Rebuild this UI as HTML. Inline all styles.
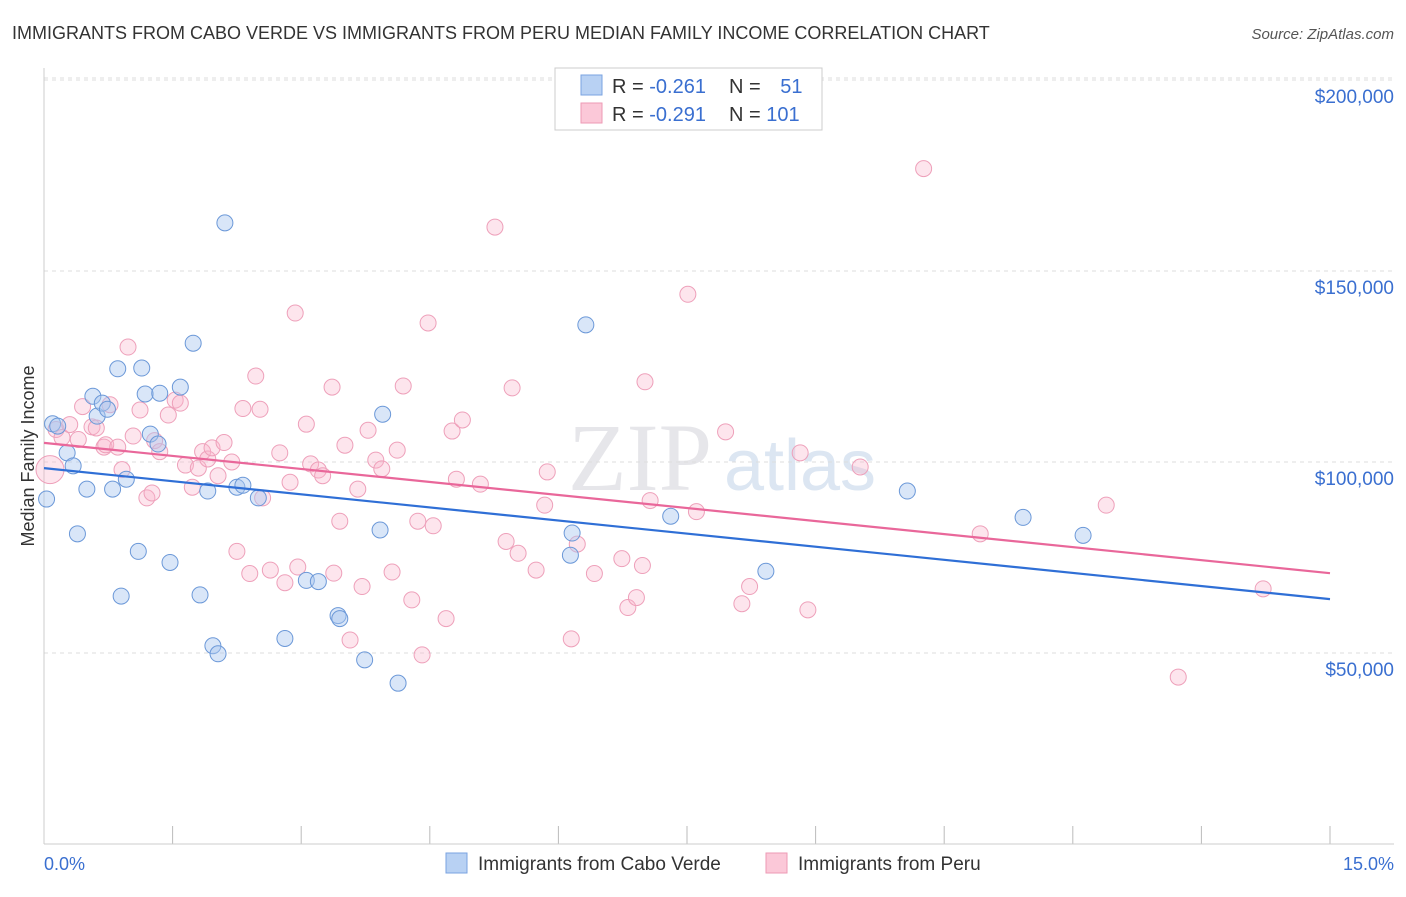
<!DOCTYPE html>
<html><head><meta charset="utf-8"><style>
body{margin:0;background:#fff;font-family:"Liberation Sans",sans-serif;}
</style></head><body>
<svg id="c" width="1406" height="892" xmlns="http://www.w3.org/2000/svg">
<text x="12" y="39" font-size="18" fill="#333">IMMIGRANTS FROM CABO VERDE VS IMMIGRANTS FROM PERU MEDIAN FAMILY INCOME CORRELATION CHART</text>
<text x="1394" y="39" font-size="15" fill="#555" font-style="italic" text-anchor="end">Source: ZipAtlas.com</text>
<text x="640" y="490" font-size="96" fill="#e6e6ea" font-family="Liberation Serif,serif" text-anchor="middle">ZIP</text>
<text x="800" y="490" font-size="72" fill="#dce6f2" text-anchor="middle">atlas</text>
<g id="grid"></g>
<line x1="44" y1="68" x2="44" y2="844" stroke="#ccc"/>
<line x1="44" y1="844" x2="1394" y2="844" stroke="#ccc"/>
<text transform="translate(34,456) rotate(-90)" font-size="18" fill="#333" text-anchor="middle">Median Family Income</text>
<text x="44" y="870" font-size="18" fill="#3a6fd0">0.0%</text>
<text x="1394" y="870" font-size="18" fill="#3a6fd0" text-anchor="end">15.0%</text>
<g id="pts"></g>
<g id="lines"></g>
<g>
<rect x="555" y="68" width="267" height="62" fill="#fff" stroke="#ccc"/>
<rect x="581" y="75" width="21" height="20" fill="#b8d1f3" stroke="#7aa3e0"/>
<rect x="581" y="103" width="21" height="20" fill="#fbc8d8" stroke="#ee9ab5"/>
<text x="612" y="93" font-size="20" fill="#333">R = <tspan fill="#3a6fd0">-0.261</tspan></text>
<text x="729" y="93" font-size="20" fill="#333">N = <tspan fill="#3a6fd0" dx="14">51</tspan></text>
<text x="612" y="121" font-size="20" fill="#333">R = <tspan fill="#3a6fd0">-0.291</tspan></text>
<text x="729" y="121" font-size="20" fill="#333">N = <tspan fill="#3a6fd0">101</tspan></text>
</g>
<g>
<rect x="446" y="853" width="21" height="20" fill="#b8d1f3" stroke="#7aa3e0"/>
<text x="478" y="870" font-size="19" fill="#333">Immigrants from Cabo Verde</text>
<rect x="766" y="853" width="21" height="20" fill="#fbc8d8" stroke="#ee9ab5"/>
<text x="798" y="870" font-size="19" fill="#333">Immigrants from Peru</text>
</g>
</svg>
<script>
const yTicks=[50000,100000,150000,200000];
const yTickLabels=["$50,000","$100,000","$150,000","$200,000"];
const xTicks=[0,1.5,3,4.5,6,7.5,9,10.5,12,13.5,15];
const blueX=[0.03,0.1,0.16,0.27,0.34,0.39,0.5,0.57,0.62,0.68,0.74,0.8,0.86,0.9,0.96,1.1,1.14,1.18,1.24,1.33,1.35,1.47,1.59,1.74,1.82,1.91,1.97,2.03,2.11,2.25,2.32,2.5,2.81,3.06,3.2,3.43,3.45,3.74,3.92,3.95,4.13,6.14,6.16,6.32,7.31,8.42,10.07,11.42,12.12];
const blueY=[90300,110000,109400,102400,99000,81200,92900,117200,112000,115400,113800,92900,124400,64900,95500,76600,124600,117800,107300,104700,118000,73700,119600,131100,65200,92400,51900,49800,162600,93400,93900,90600,53800,69000,68700,59800,59000,48200,82200,112500,42100,75600,81400,135900,85800,71400,92400,85500,80800];
const pinkX=[0.07,0.14,0.21,0.3,0.4,0.45,0.56,0.61,0.7,0.72,0.77,0.86,0.91,0.98,1.04,1.12,1.2,1.26,1.29,1.35,1.45,1.53,1.59,1.65,1.73,1.8,1.85,1.91,1.96,2.03,2.1,2.19,2.25,2.32,2.4,2.47,2.52,2.55,2.64,2.75,2.81,2.87,2.93,2.96,3.06,3.11,3.2,3.25,3.36,3.38,3.45,3.51,3.57,3.66,3.71,3.78,3.87,3.94,4.06,4.12,4.19,4.29,4.36,4.41,4.48,4.54,4.69,4.76,4.81,4.88,5.09,5.26,5.39,5.46,5.53,5.74,5.84,5.87,6.15,6.22,6.42,6.74,6.81,6.91,6.98,7.01,7.07,7.51,7.61,7.95,8.14,8.23,8.82,8.91,9.52,10.26,10.92,12.39,13.23,14.22]; 
const pinkY=[98000,108500,106400,109800,105900,114500,109200,108900,103900,104500,115000,103900,98000,130100,106800,113600,90600,91900,105600,102700,112300,116200,115400,99200,93400,98400,102700,100800,103700,96400,105100,100000,76600,114000,70800,122500,113800,90600,71700,102400,68400,94700,139000,72500,109900,99500,97900,96400,119600,70900,84500,104400,53400,92900,67400,108300,100500,98200,71200,103100,119900,63900,84500,49500,136400,83300,59000,108100,95500,111000,94200,161500,79200,119400,76100,71700,88700,97400,53700,78500,70800,74700,61900,64500,72900,121000,89900,143900,87000,107900,62900,67400,102400,61300,98700,176800,81200,88700,43700,66800];
const NS="http://www.w3.org/2000/svg";
const sx=v=>44+v/15*1286, sy=v=>844-v/50000*191;
const svg=document.getElementById('c');
function mk(t,a,p){const e=document.createElementNS(NS,t);for(const k in a)e.setAttribute(k,a[k]);p.appendChild(e);return e;}
const g=document.getElementById('grid');
yTicks.forEach((v,i)=>{
 const l=mk('line',{x1:44,x2:1394,y1:sy(v),y2:sy(v),stroke:'#ddd','stroke-dasharray':'4,4'},g);
 
 
 const t=mk('text',{x:1394,y:sy(v)+23,'font-size':19,fill:'#3a6fd0','text-anchor':'end'},g);
 t.textContent=yTickLabels[i];
 
 
});
const topl=mk('line',{x1:44,x2:1394,y1:78,y2:78,stroke:'#ddd','stroke-dasharray':'4,4'},g);
xTicks.forEach(v=>{
 const l=mk('line',{x1:sx(v),x2:sx(v),y1:826,y2:844,stroke:'#bbb'},g);
 
 
});
const pg=document.getElementById('pts');
pinkX.forEach((x,i)=>{
 const c=mk('circle',{cx:sx(x),cy:sy(pinkY[i]),r:i==0?14:8,fill:'rgba(248,180,204,0.35)',stroke:'#eea0ba','stroke-width':1},pg);
 
 
});
blueX.forEach((x,i)=>{
 const c=mk('circle',{cx:sx(x),cy:sy(blueY[i]),r:8,fill:'rgba(170,200,240,0.45)',stroke:'#6b98d8','stroke-width':1},pg);
 
 
});
const trendBlue=[98400,64100], trendPink=[105000,70900];
const lg=document.getElementById('lines');
const lb=mk('line',{x1:sx(0),x2:sx(15),y1:sy(trendBlue[0]),y2:sy(trendBlue[1]),stroke:'#2f6fd6','stroke-width':2.2},lg);


const lp=mk('line',{x1:sx(0),x2:sx(15),y1:sy(trendPink[0]),y2:sy(trendPink[1]),stroke:'#e9679a','stroke-width':2.2},lg);


</script>
</body></html>
